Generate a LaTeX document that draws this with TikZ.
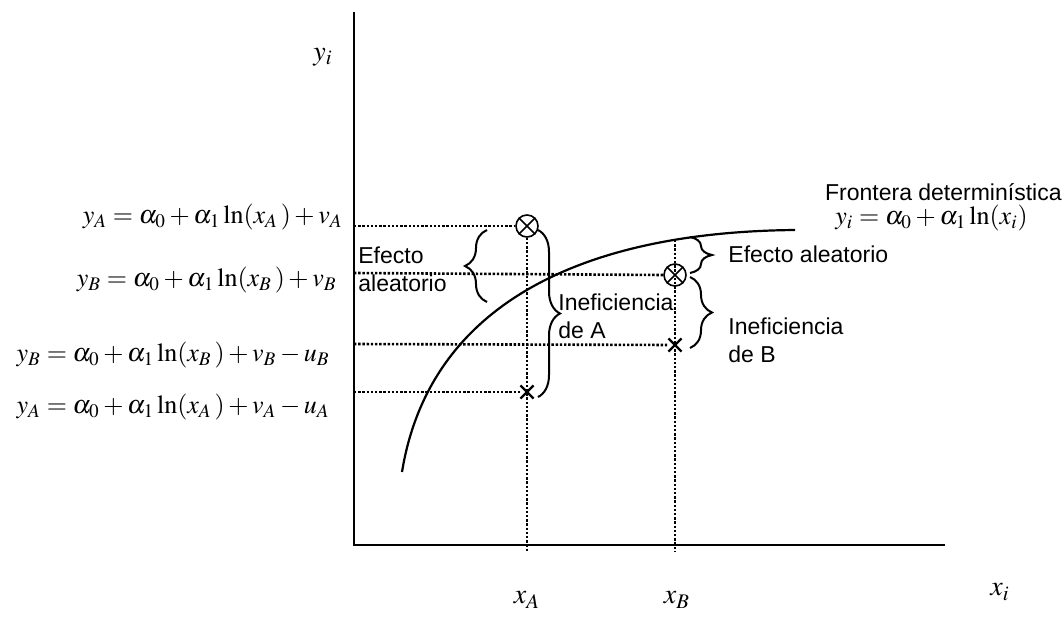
\documentclass[tikz,border=0pt]{standalone}
\usepackage{mathptmx}
\usepackage[no-math]{fontspec}
\setmainfont{Liberation Serif}
\setsansfont{Liberation Sans}
\usetikzlibrary{positioning, decorations.pathreplacing, shapes.misc}

\begin{document}
\begin{tikzpicture}[x=0.5pt, y=-0.5pt,
      axis/.style={line width=1.2pt},
      guide/.style={line width=1.3pt, dash pattern=on 1.2pt off 0.9pt},
      front/.style={line width=1.1pt},
      lbl/.style={font=\sffamily\fontsize{11.5}{14}\selectfont, align=left, inner sep=0pt},
      eq/.style={font=\fontsize{13}{15}\selectfont, inner sep=0pt},
      big/.style={font=\fontsize{14}{16}\selectfont, inner sep=0pt},
      obs/.style={circle, draw, line width=0.8pt, minimum size=11pt, inner sep=0pt},
      est/.style={cross out, draw, line width=1.1pt, minimum size=5.5pt, inner sep=0pt},
      brc/.style={decorate, decoration={brace, amplitude=11pt}, line width=1pt}]
    \useasboundingbox (0,0) rectangle (1064,616);
    % axes
    \coordinate (O) at (354,545);
    \coordinate (top) at (354,12);
    \coordinate (right) at (945,545);
    \draw[axis] (top) -- (O) -- (right);
    \node[big] (yi) at (323,57) {$y_i$};
    \node[big] (xi) at (1000,592) {$x_i$};
    % frontier
    \draw[front] (402,472) .. controls (428,312) and (570,232) .. (795,230);
    \node[lbl, anchor=east] (fr) at (1062,192) {Frontera determinística};
    \node[eq, anchor=west] (freq) at (835,218) {$y_i=\alpha_0+\alpha_1\ln(x_i)$};
    % observations and fitted points
    \node[obs] (pA) at (527,226) {};
    \node[obs] (pB) at (675,275) {};
    \node[est] (qA) at (527,392) {};
    \node[est] (qB) at (675,345) {};
    \foreach \p in {pA, pB} {
      \draw[line width=0.8pt] (\p.north west) -- (\p.south east);
      \draw[line width=0.8pt] (\p.north east) -- (\p.south west);
    }
    \coordinate (fB) at (675,240);
    \coordinate (xA) at (527,551);
    \coordinate (xB) at (675,551);
    \coordinate (yAv) at (354,226);
    \coordinate (yBv) at (354,273);
    \coordinate (yBu) at (354,344);
    \coordinate (yAu) at (354,392);
    % guide lines
    \draw[guide] (pA) -- (xA);
    \draw[guide] (fB) -- (xB);
    \draw[guide] (yAv) -- (pA.west);
    \draw[guide] (yBv) -- (pB.west);
    \draw[guide] (yBu) -- (qB);
    \draw[guide] (yAu) -- (qA);
    \node[big] (labA) at (527,600) {$x_A$};
    \node[big] (labB) at (677,600) {$x_B$};
    % equations
    \node[eq, anchor=east] (eAv) at (343,217) {$y_A=\alpha_0+\alpha_1\ln(x_A\,)+v_A$};
    \node[eq, anchor=east] (eBv) at (337,280) {$y_B=\alpha_0+\alpha_1\ln(x_B\,)+v_B$};
    \node[eq, anchor=east] (eBu) at (330,355) {$y_B=\alpha_0+\alpha_1\ln(x_B\,)+v_B-u_B$};
    \node[eq, anchor=east] (eAu) at (330,407) {$y_A=\alpha_0+\alpha_1\ln(x_A\,)+v_A-u_A$};
    % braces
    \draw[brc] (487,302) -- (487,230);
    \draw[brc] (538,230) -- (538,397);
    \draw[brc] (690,237) -- (690,273);
    \draw[brc] (690,277) -- (690,348);
    \node[lbl, anchor=west] (efA) at (358,269) {Efecto\\aleatorio};
    \node[lbl, anchor=west] (inA) at (558,316) {Ineficiencia\\de A};
    \node[lbl, anchor=west] (efB) at (728,254) {Efecto aleatorio};
    \node[lbl, anchor=west] (inB) at (728,340) {Ineficiencia\\de B};
  \end{tikzpicture}
\end{document}
